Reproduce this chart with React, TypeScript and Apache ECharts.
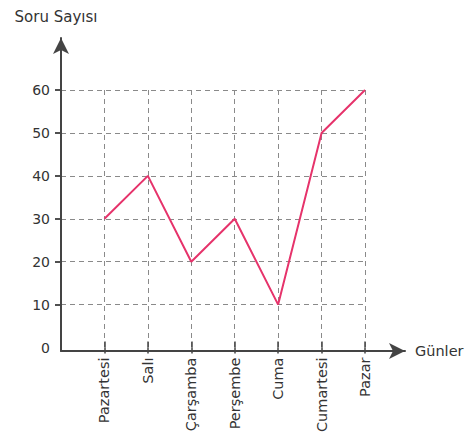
import React, { useEffect, useRef } from "react";
import * as echarts from "echarts";

const days = ["Pazartesi", "Salı", "Çarşamba", "Perşembe", "Cuma", "Cumartesi", "Pazar"];
const questionCounts = [30, 40, 20, 30, 10, 50, 60];
const yTicks = [0, 10, 20, 30, 40, 50, 60];
const yAxisTitle = "Soru Sayısı";
const xAxisTitle = "Günler";

const FONT = "DejaVu Sans";
const TEXT = "#333";
const AXIS = "#444";
const GRIDC = "#8a8a8a";

export default function App() {
  const ref = useRef<HTMLDivElement>(null);
  useEffect(() => {
    if (!ref.current) return;
    const chart = echarts.init(ref.current, undefined, { renderer: "svg" });
    const dayPositions = days.map((_, i) => i + 1);
    const option: any = {
      animation: false,
      backgroundColor: "#fff",
      grid: [
        { left: 61, top: 90, right: 105, bottom: 84 },
        { left: 61, top: 38, right: 65, bottom: 84 },
      ],
      xAxis: [
        {
          gridIndex: 0,
          type: "value",
          min: 0,
          max: days.length,
          interval: 1,
          position: "bottom",
          axisLine: { show: false },
          axisTick: { show: true, inside: false, length: 6, customValues: dayPositions, lineStyle: { color: AXIS, width: 1.5 } },
          axisLabel: {
            show: true,
            customValues: dayPositions,
            rotate: 90,
            margin: 10,
            color: TEXT,
            fontFamily: FONT,
            fontSize: 14.5,
            formatter: (v: number) => days[Math.round(v) - 1] ?? "",
          },
          splitLine: { show: true, lineStyle: { color: GRIDC, width: 1, type: [5, 4] } },
        },
        {
          gridIndex: 0,
          type: "value",
          min: 0,
          max: days.length,
          interval: 1,
          position: "bottom",
          axisLine: { show: false },
          axisTick: { show: true, inside: true, length: 6, customValues: dayPositions, lineStyle: { color: AXIS, width: 1.5 } },
          axisLabel: { show: false },
          splitLine: { show: false },
        },
        {
          gridIndex: 1,
          type: "value",
          min: 0,
          max: 1,
          axisLine: {
            show: true,
            symbol: ["none", "arrow"],
            symbolSize: [12, 16],
            lineStyle: { color: AXIS, width: 2 },
          },
          axisTick: { show: false },
          axisLabel: { show: false },
          splitLine: { show: false },
          name: xAxisTitle,
          nameLocation: "end",
          nameGap: 10,
          nameTextStyle: { color: TEXT, fontFamily: FONT, fontSize: 14.5, align: "left", verticalAlign: "middle" },
        },
      ],
      yAxis: [
        {
          gridIndex: 0,
          type: "value",
          min: 0,
          max: 60,
          interval: 10,
          axisLine: { show: false },
          axisTick: { show: true, inside: false, length: 6, customValues: yTicks.slice(1), lineStyle: { color: AXIS, width: 1.5 } },
          axisLabel: { show: true, customValues: yTicks, margin: 11, color: TEXT, fontFamily: FONT, fontSize: 14 },
          splitLine: { show: true, lineStyle: { color: GRIDC, width: 1, type: [5, 4] } },
        },
        {
          gridIndex: 0,
          type: "value",
          min: 0,
          max: 60,
          interval: 10,
          axisLine: { show: false },
          axisTick: { show: true, inside: true, length: 6, customValues: yTicks.slice(1), lineStyle: { color: AXIS, width: 1.5 } },
          axisLabel: { show: false },
          splitLine: { show: false },
        },
        {
          gridIndex: 1,
          type: "value",
          min: 0,
          max: 1,
          axisLine: {
            show: true,
            symbol: ["none", "arrow"],
            symbolSize: [12, 16],
            lineStyle: { color: AXIS, width: 2 },
          },
          axisTick: { show: false },
          axisLabel: { show: false },
          splitLine: { show: false },
          name: yAxisTitle,
          nameLocation: "end",
          nameGap: 14,
          nameTextStyle: { color: TEXT, fontFamily: FONT, fontSize: 15, align: "center", padding: [0, 10, 0, 0] },
        },
      ],
      series: [
        {
          type: "line",
          xAxisIndex: 0,
          yAxisIndex: 0,
          data: days.map((_, i) => [i + 1, questionCounts[i]]),
          symbol: "none",
          lineStyle: { color: "#e6336b", width: 2 },
          z: 5,
        },
      ],
    };
    chart.setOption(option);
    return () => chart.dispose();
  }, []);
  return (
    <div
      ref={ref}
      style={{ position: "absolute", left: 0, top: 0, width: 470, height: 435, background: "#fff" }}
    />
  );
}
